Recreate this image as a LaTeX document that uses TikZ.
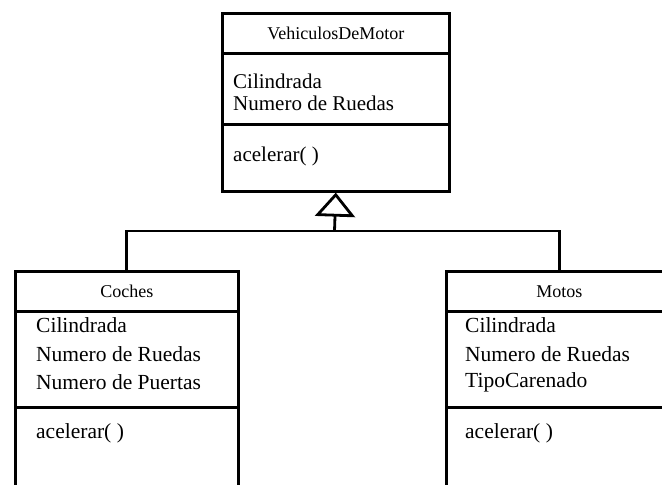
\documentclass[tikz,border=0pt]{standalone}
\usepackage{fontspec}
\setmainfont{Liberation Serif}
\usetikzlibrary{arrows.meta}
\begin{document}
\begin{tikzpicture}[x=1pt,y=-1pt,
  comp/.style={draw, line width=2.6pt, anchor=north west, inner sep=0pt},
  ttl/.style={font=\fontsize{18}{18}\selectfont},
  attr/.style={anchor=west, inner sep=0pt, font=\fontsize{21}{21}\selectfont},
  cattr/.style={anchor=west, inner sep=0pt, font=\fontsize{21.5}{21.5}\selectfont},
  link/.style={line width=2.8pt, line join=miter}
  ]
\useasboundingbox (0,0) rectangle (662,485);
\clip (0,0) rectangle (662,485);
% parent class
\node[comp, ttl, minimum width=227pt, minimum height=40pt] (vt) at (221,12) {VehiculosDeMotor};
\node[comp, minimum width=227pt, minimum height=71pt] (va) at (221,52) {};
\node[comp, minimum width=227pt, minimum height=67pt] (vm) at (221,123) {};
\node[attr] (va1) at (233,81) {Cilindrada};
\node[attr] (va2) at (233,103) {Numero de Ruedas};
\node[attr] (vm1) at (233,156) {acelerar( )};
% Coches
\node[comp, ttl, minimum width=223pt, minimum height=40pt] (ct) at (14,270) {Coches};
\node[comp, minimum width=223pt, minimum height=96pt] (ca) at (14,310) {};
\node[comp, minimum width=223pt, minimum height=110pt] (cm) at (14,406) {};
\node[cattr] (ca1) at (36,325) {Cilindrada};
\node[cattr] (ca2) at (36,354) {Numero de Ruedas};
\node[cattr] (ca3) at (36,382) {Numero de Puertas};
\node[cattr] (cm1) at (36,433) {acelerar( )};
% Motos
\node[comp, ttl, minimum width=226pt, minimum height=40pt] (mt) at (445,270) {Motos};
\node[comp, minimum width=226pt, minimum height=96pt] (ma) at (445,310) {};
\node[comp, minimum width=226pt, minimum height=110pt] (mm) at (445,406) {};
\node[cattr] (ma1) at (465,325) {Cilindrada};
\node[cattr] (ma2) at (465,354) {Numero de Ruedas};
\node[cattr] (ma3) at (465,382) {TipoCarenado};
\node[cattr] (mm1) at (465,433) {acelerar( )};
% generalization
\coordinate (j) at (334.5,231);
\draw[link] (ct.north) |- (j) -| (mt.north);
\draw[link, -{Triangle[open, length=24pt, width=40pt, line width=2.8pt]}] (j) -- (vm.south);
\end{tikzpicture}
\end{document}
